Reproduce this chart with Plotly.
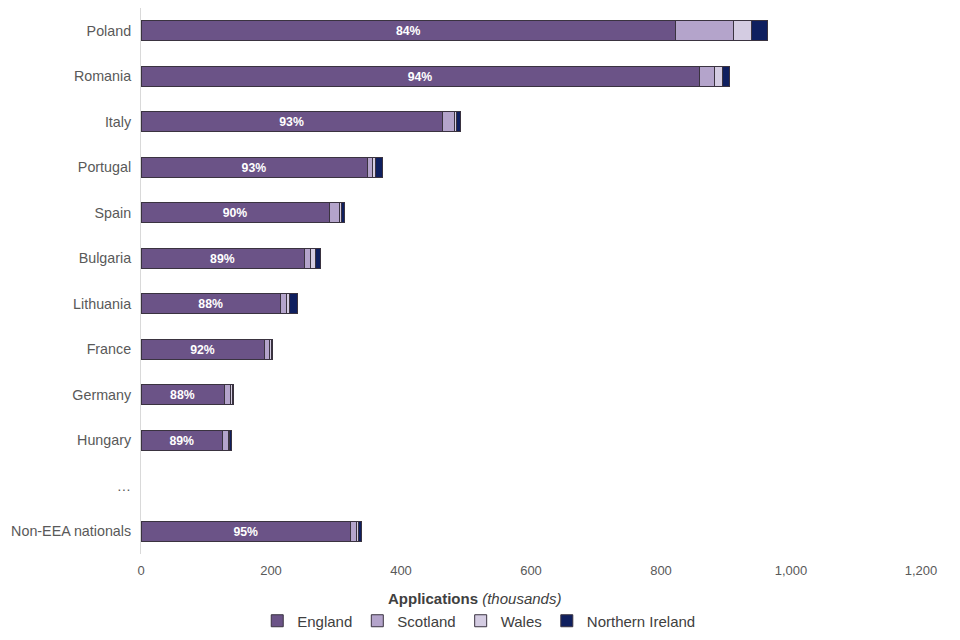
import plotly.graph_objects as go

categories = ["Poland", "Romania", "Italy", "Portugal", "Spain", "Bulgaria",
              "Lithuania", "France", "Germany", "Hungary", "…", "Non-EEA nationals"]
england = [823, 859, 464, 348, 290, 251, 215, 190, 128, 126, None, 323]
scotland = [89, 23, 19, 8, 16, 10, 9, 8, 9, 8, None, 9]
wales = [27, 12, 3, 4, 3, 7, 4, 2, 3, 2.5, None, 2.5]
northern_ireland = [25, 12, 5, 12, 4, 8, 13, 2.5, 2, 3, None, 4]
england_share = ["84%", "94%", "93%", "93%", "90%", "89%", "88%", "92%", "88%", "89%", "", "95%"]
x_ticks = [0, 200, 400, 600, 800, 1000, 1200]

series = [
    ("England", england, "#6B5387"),
    ("Scotland", scotland, "#B4A4CB"),
    ("Wales", wales, "#D4CCE2"),
    ("Northern Ireland", northern_ireland, "#0F1F5F"),
]

FONT = "Liberation Sans, Arial"

fig = go.Figure()
for name, vals, color in series:
    kw = {}
    if name == "England":
        kw = dict(text=england_share, textposition="inside", insidetextanchor="middle",
                  textfont=dict(color="white", size=14, family=FONT),
                  texttemplate="<b>%{text}</b>", textangle=0)
    fig.add_trace(go.Bar(
        y=categories, x=vals, name=name, orientation="h",
        marker=dict(color=color, line=dict(color="#3a3340", width=1)),
        width=0.44, **kw))

fig.update_layout(
    barmode="stack",
    width=960, height=640,
    margin=dict(l=133, r=47, t=0, b=94, autoexpand=False),
    plot_bgcolor="white", paper_bgcolor="white",
    font=dict(family=FONT, color="#595959", size=15),
    showlegend=True,
    legend=dict(orientation="h", x=0.433, xanchor="center", y=-0.1227, yanchor="middle",
                font=dict(size=15, color="#404040"), traceorder="normal",
                itemwidth=30),
    uniformtext=dict(mode="show", minsize=10),
    annotations=[dict(
        text="<b>Applications</b> <i>(thousands)</i>", xref="paper", yref="paper",
        x=0.428, y=-0.0824, xanchor="center", yanchor="middle", showarrow=False,
        font=dict(size=15, color="#404040", family=FONT))],
)
fig.update_yaxes(
    categoryorder="array", categoryarray=categories, autorange="reversed",
    showline=True, linecolor="#D9D9D9", linewidth=1, ticks="", ticklabelstandoff=6,
    tickfont=dict(size=14.3, color="#595959"), showgrid=False, zeroline=False,
    automargin=False,
)
fig.update_xaxes(
    range=[0, 1200], tickvals=x_ticks, tickformat=",",
    showgrid=False, zeroline=False, showline=False, ticks="", ticklabelstandoff=7,
    tickfont=dict(size=13, color="#595959"), automargin=False,
)

fig.write_html("out.html")
